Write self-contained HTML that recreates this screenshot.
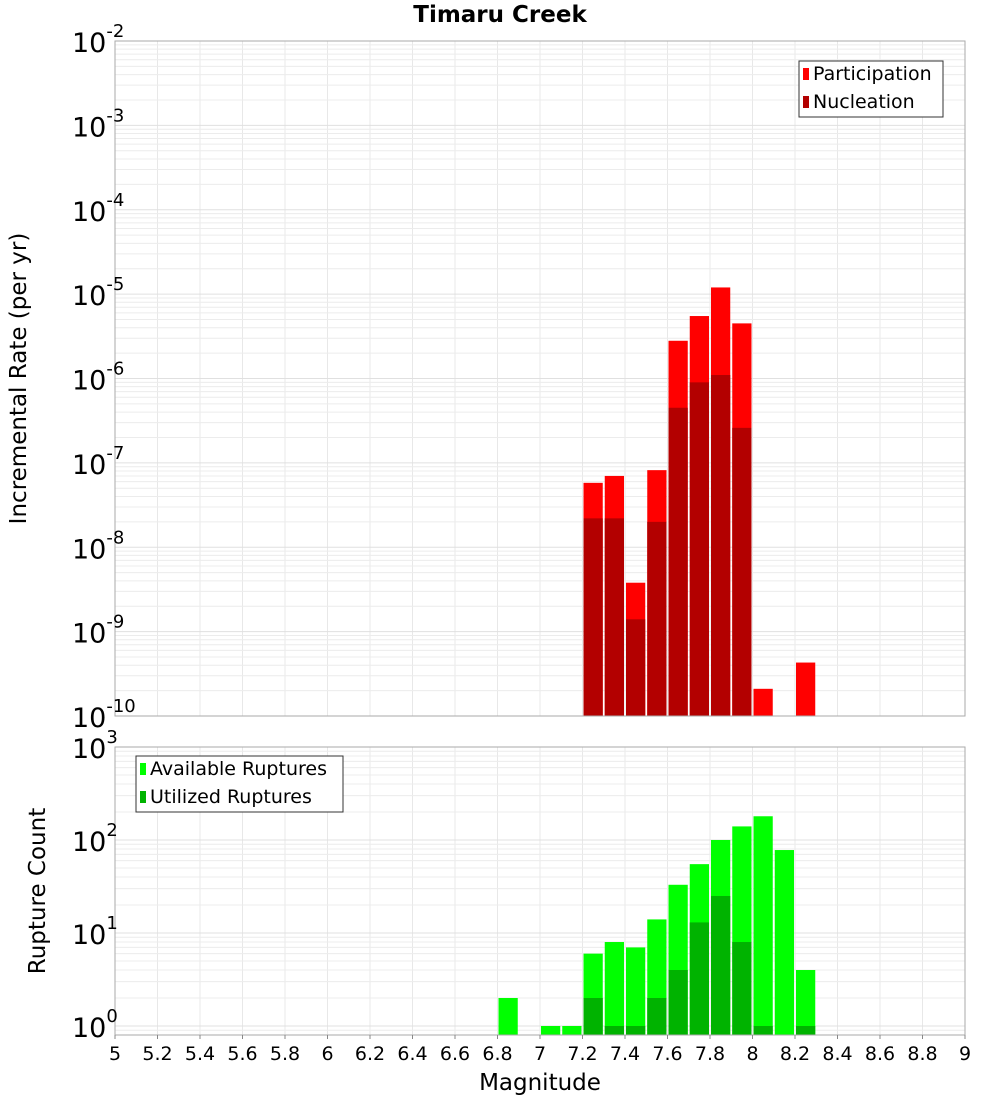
<!DOCTYPE html>
<html><head><meta charset="utf-8"><style>
body{margin:0;background:#fff;font-family:"Liberation Sans","DejaVu Sans",sans-serif}
svg text{font-family:"DejaVu Sans","Liberation Sans",sans-serif}
</style></head><body>
<svg id="c" width="1000" height="1100" xmlns="http://www.w3.org/2000/svg">
<text x="500" y="22" text-anchor="middle" font-size="23" font-weight="bold">Timaru Creek</text>
<g id="top"></g><g id="bot"></g>
</svg>
<script>
// Data
const topBins = [7.25,7.35,7.45,7.55,7.65,7.75,7.85,7.95,8.05,8.25];
const participation = [5.8e-8,7e-8,3.8e-9,8.2e-8,2.8e-6,5.5e-6,1.2e-5,4.5e-6,2.1e-10,4.3e-10];
const nucleation = [2.2e-8,2.2e-8,1.4e-9,2e-8,4.5e-7,9e-7,1.1e-6,2.6e-7,0,0];
const botBins = [6.85,7.05,7.15,7.25,7.35,7.45,7.55,7.65,7.75,7.85,7.95,8.05,8.15,8.25];
const available = [2,1,1,6,8,7,14,33,55,100,140,180,78,4];
const utilized = [0,0,0,2,1,1,2,4,13,25,8,1,0,1];
const xTicks = [5,5.2,5.4,5.6,5.8,6,6.2,6.4,6.6,6.8,7,7.2,7.4,7.6,7.8,8,8.2,8.4,8.6,8.8,9];
const topExp = [-2,-3,-4,-5,-6,-7,-8,-9,-10];
const botExp = [3,2,1,0];

const NS="http://www.w3.org/2000/svg";
const L=115,R=965;
const xs=v=>L+(v-5)*(R-L)/4;
function mk(p,tag,at){const e=document.createElementNS(NS,tag);for(const k in at)e.setAttribute(k,at[k]);p.appendChild(e);return e;}
function panel(g,top,bottom,yOf,eMin,eMax,exps,bins,s1,s2,c1,c2,n1,n2,legX,legY,legW,axisName,axisY){
  for(const t of xTicks){const l=mk(g,'line',{x1:xs(t),x2:xs(t),y1:top,y2:bottom,stroke:'#e8e8e8'});
    }
  for(let e=eMin-1;e<=eMax;e++)for(let m=1;m<10;m++){const y=yOf(m*Math.pow(10,e));if(y<top||y>bottom)continue;
    const l=mk(g,'line',{x1:L,x2:R,y1:y,y2:y,stroke:m==1?'#e0e0e0':'#ececec'});
    }
  const w=(R-L)/40;
  bins.forEach((b,i)=>{[[s1,c1,'bar-'+n1],[s2,c2,'bar-'+n2]].forEach(([s,c,nm])=>{const v=s[i];if(!v)return;
    const y=Math.max(top,yOf(v));const r=mk(g,'rect',{x:xs(b)-w/2+1,y:y,width:w-2,height:bottom-y,fill:c});
    });});
  mk(g,'rect',{x:L,y:top,width:R-L,height:bottom-top,fill:'none',stroke:'#aaa'});
  exps.forEach(e=>{const y=yOf(Math.pow(10,e));const t=mk(g,'text',{x:72,y:y+11,'font-size':'27'});
    t.innerHTML='10<tspan dy="-15" font-size="18">'+e+'</tspan>';});
  const a=mk(g,'text',{x:0,y:0,'font-size':'23','text-anchor':'middle',transform:`translate(${axisY},${(top+bottom)/2}) rotate(-90)`});
  a.textContent=axisName;
  const lg=mk(g,'g',{});
  mk(lg,'rect',{x:legX,y:legY,width:legW,height:56,fill:'#fff',stroke:'#333'});
  [[c1,n1.replace(/-/g,' ')],[c2,n2.replace(/-/g,' ')]].forEach(([c,n],i)=>{
    mk(lg,'rect',{x:legX+4,y:legY+7+i*28,width:6,height:12,fill:c});
    const t=mk(lg,'text',{x:legX+14,y:legY+19+i*28,'font-size':'19'});t.textContent=n.replace(/\b\w/g,s=>s.toUpperCase());
    });
}
const tg=document.getElementById('top'),bg=document.getElementById('bot');
panel(tg,41,716,v=>716-(Math.log10(v)+10)*84.375,-10,-2,topExp,topBins,participation,nucleation,'#ff0000','#b30000','participation','nucleation',799,61,144,'Incremental Rate (per yr)',26);
panel(bg,747,1035,v=>1026-Math.log10(v)*93,0,3,botExp,botBins,available,utilized,'#00ff00','#00b300','available-ruptures','utilized-ruptures',136,756,207,'Rupture Count',45);
xTicks.forEach(t=>{const e=mk(bg,'text',{x:xs(t),y:1060,'text-anchor':'middle','font-size':'19'});e.textContent=t;
  
  mk(bg,'line',{x1:xs(t),x2:xs(t),y1:1035,y2:1039,stroke:'#888'});});
const xt=mk(bg,'text',{x:540,y:1090,'text-anchor':'middle','font-size':'23'});xt.textContent='Magnitude';


</script>
</body></html>
